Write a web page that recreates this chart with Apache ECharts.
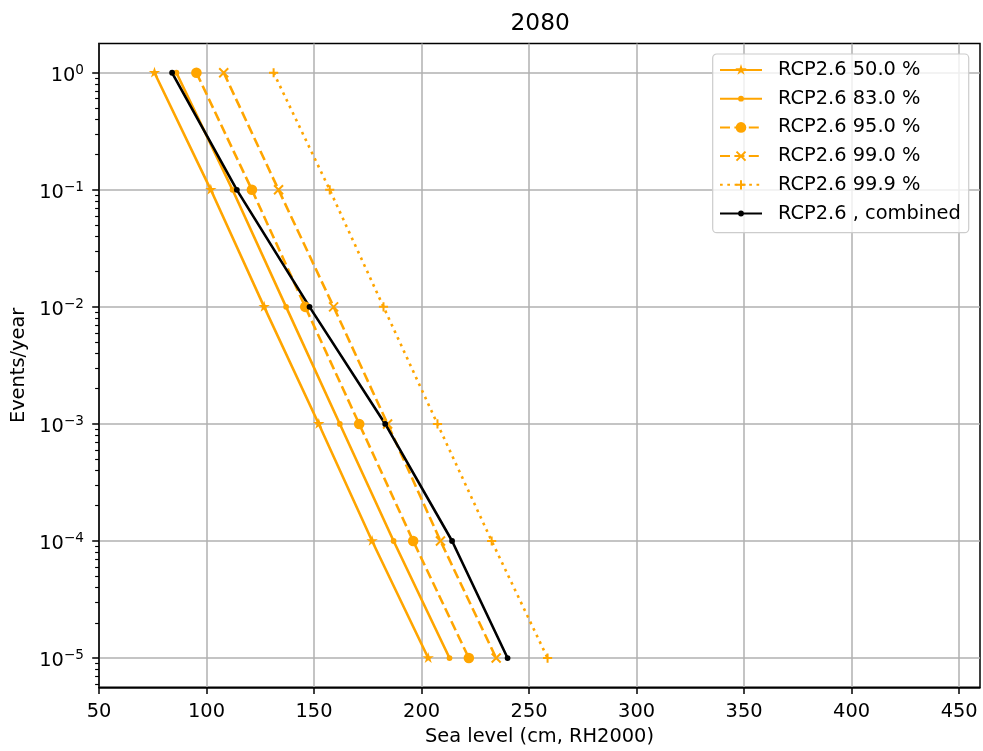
<!DOCTYPE html>
<html>
<head>
<meta charset="utf-8">
<script src="https://cdn.jsdelivr.net/npm/echarts@6/dist/echarts.min.js"></script>
<style>
html,body{margin:0;padding:0;background:#fff;}
#chart{width:983px;height:751px;}
</style>
</head>
<body>
<div id="chart"></div>
<script>
// ---- data ----
const titleText = '2080';
const eventsPerYear = [1, 0.1, 0.01, 0.001, 0.0001, 0.00001];
const rcp50 = [75.8, 102.0, 126.8, 152.2, 177.0, 203.1];
const rcp83 = [86.0, 112.1, 137.0, 162.0, 187.0, 213.0];
const rcp95 = [95.3, 121.1, 145.9, 171.0, 196.1, 222.0];
const rcp99 = [108.0, 133.5, 159.1, 184.2, 208.8, 234.7];
const rcp999 = [131.2, 157.3, 182.3, 207.4, 232.6, 258.6];
const combined = [84.0, 114.1, 147.9, 183.1, 214.2, 240.0];
const seriesNames = ['RCP2.6 50.0 %', 'RCP2.6 83.0 %', 'RCP2.6 95.0 %', 'RCP2.6 99.0 %', 'RCP2.6 99.9 %', 'RCP2.6 , combined'];
const xTicks = [50, 100, 150, 200, 250, 300, 350, 400, 450];
const yDecades = [-5, -4, -3, -2, -1, 0];
const xName = 'Sea level (cm, RH2000)';
const yName = 'Events/year';

// ---- styles ----
const F = 'DejaVu Sans';
const FS = 19.4;
const ORANGE = '#ffa500';
const FRAME = 'M0,0L0,0M20,20L20,20';
const STAR = 'path://' + FRAME + 'M10,4L11.35,8.15L15.71,8.15L12.18,10.71L13.53,14.85L10,12.29L6.47,14.85L7.82,10.71L4.29,8.15L8.65,8.15Z';
const DOT = 'path://' + FRAME + 'M7.1,10a2.9,2.9 0 1,0 5.8,0a2.9,2.9 0 1,0 -5.8,0Z';
const CIRCLE = 'path://' + FRAME + 'M4.7,10a5.3,5.3 0 1,0 10.6,0a5.3,5.3 0 1,0 -10.6,0Z';
const XMARK = 'path://' + FRAME + 'M6.21,4.79L15.21,13.79L13.79,15.21L4.79,6.21ZM4.79,13.79L13.79,4.79L15.21,6.21L6.21,15.21Z';
const PLUS = 'path://' + FRAME + 'M9,5.4L11,5.4L11,14.6L9,14.6ZM5.4,9L14.6,9L14.6,11L5.4,11Z';
const DASHED = [10, 4.4];
const DOTTED = [2.7, 4.6];
const LW = 2.6;
const GRID_W = 1.5;

function mk(name, xs, symbol, lineType, color) {
  return {
    name: name,
    type: 'line',
    data: xs.map((x, i) => [x, Math.log10(eventsPerYear[i])]),
    symbol: symbol,
    symbolSize: 20,
    showSymbol: true,
    showAllSymbol: true,
    lineStyle: { color: color, width: LW, type: lineType },
    itemStyle: { color: color, borderWidth: 0 },
    emphasis: { disabled: true },
    animation: false,
    z: 3
  };
}

const minorVals = [];
for (let d = -6; d <= 0; d++) {
  for (let k = 2; k <= 9; k++) {
    const v = d + Math.log10(k);
    if (v >= -5.25 && v <= 0.25) minorVals.push(v);
  }
}

function supLabel(v) {
  const e = Math.round(v);
  const s = e === 0 ? '0' : '\u2212' + (-e);
  return '{b|10}{s|' + s + '}';
}

const chart = echarts.init(document.getElementById('chart'), null, { renderer: 'canvas' });
chart.setOption({
  animation: false,
  backgroundColor: '#ffffff',
  textStyle: { fontFamily: F },
  title: {
    text: titleText,
    left: 510.5,
    top: 10.5,
    padding: 0,
    textStyle: { fontFamily: F, fontSize: 23.3, fontWeight: 'normal', color: '#000', lineHeight: 26 }
  },
  grid: {
    left: 99, right: 3, top: 43.5, bottom: 63.7,
    show: true, borderColor: '#000', borderWidth: GRID_W, backgroundColor: 'transparent',
    containLabel: false, outerBoundsMode: 'none'
  },
  legend: {
    orient: 'vertical',
    left: 712.7,
    top: 54,
    data: seriesNames,
    itemWidth: 42,
    itemHeight: 25,
    itemGap: 8.7,
    padding: [6, 8, 9.2, 6.3],
    backgroundColor: 'rgba(255,255,255,0.8)',
    borderColor: '#cccccc',
    borderWidth: 1.2,
    borderRadius: 4,
    selectedMode: false,
    textStyle: { fontFamily: F, fontSize: FS, color: '#000', lineHeight: 20, padding: [0, 0, 0, 11] }
  },
  xAxis: {
    type: 'value',
    min: 50,
    max: 459.7,
    name: xName,
    nameLocation: 'middle',
    nameGap: 40,
    nameTextStyle: { fontFamily: F, fontSize: FS, color: '#000' },
    axisLine: { show: true, onZero: false, lineStyle: { color: '#000', width: GRID_W } },
    axisTick: { show: true, inside: false, length: 6.8, customValues: xTicks, lineStyle: { color: '#000', width: GRID_W } },
    axisLabel: { show: true, margin: 15, customValues: xTicks, fontFamily: F, fontSize: FS, color: '#000', hideOverlap: false },
    splitLine: { show: true, lineStyle: { color: '#b0b0b0', width: GRID_W } }
  },
  yAxis: [
    {
      type: 'value',
      min: -5.25,
      max: 0.25,
      position: 'left',
      name: yName,
      nameLocation: 'middle',
      nameGap: 68,
      nameRotate: 90,
      nameTextStyle: { fontFamily: F, fontSize: FS, color: '#000' },
      axisLine: { show: true, onZero: false, lineStyle: { color: '#000', width: GRID_W } },
      axisTick: { show: true, inside: false, length: 6.8, customValues: yDecades, lineStyle: { color: '#000', width: GRID_W } },
      axisLabel: {
        show: true, margin: 15, customValues: yDecades, hideOverlap: false,
        formatter: supLabel,
        padding: [2.7, 0, 0, 0],
        rich: {
          b: { fontFamily: F, fontSize: FS, color: '#000', lineHeight: 22, verticalAlign: 'bottom' },
          s: { fontFamily: F, fontSize: 13.6, color: '#000', lineHeight: 12.4, verticalAlign: 'top' }
        }
      },
      splitLine: { show: true, lineStyle: { color: '#b0b0b0', width: GRID_W } }
    },
    {
      type: 'value',
      min: -5.25,
      max: 0.25,
      position: 'left',
      offset: 0,
      axisLine: { show: false },
      axisTick: { show: true, inside: false, length: 3.9, customValues: minorVals, lineStyle: { color: '#000', width: 1.15 } },
      axisLabel: { show: false },
      splitLine: { show: false }
    }
  ],
  series: [
    mk(seriesNames[0], rcp50, STAR, 'solid', ORANGE),
    mk(seriesNames[1], rcp83, DOT, 'solid', ORANGE),
    mk(seriesNames[2], rcp95, CIRCLE, DASHED, ORANGE),
    mk(seriesNames[3], rcp99, XMARK, DASHED, ORANGE),
    mk(seriesNames[4], rcp999, PLUS, DOTTED, ORANGE),
    mk(seriesNames[5], combined, DOT, 'solid', '#000000')
  ]
});
</script>
</body>
</html>
